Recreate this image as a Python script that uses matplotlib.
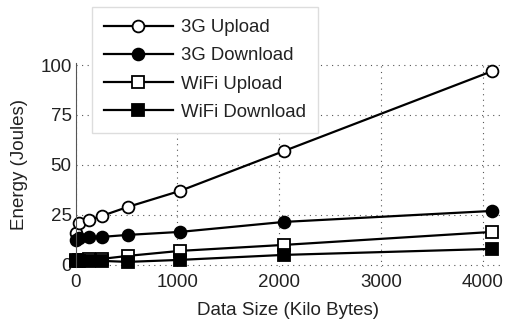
import matplotlib
matplotlib.use("Agg")
import matplotlib.pyplot as plt

# data size (KB) and energy (J)
sizes = [1, 32, 128, 256, 512, 1024, 2048, 4096]
g3_upload = [16, 21, 22.5, 24.5, 29, 37, 57, 97]
g3_download = [12.5, 13.5, 14, 14, 15, 16.5, 21.5, 27]
wifi_upload = [2.5, 2.5, 2.8, 3, 4.5, 7, 10, 16.5]
wifi_download = [2, 2, 2, 2, 1.5, 2.5, 5, 8]

labels = ["3G Upload", "3G Download", "WiFi Upload", "WiFi Download"]

plt.rcParams["font.family"] = ["Liberation Sans", "DejaVu Sans"]

fig = plt.figure(figsize=(5.05, 3.2), dpi=100)
ax = fig.add_axes([0.150, 0.166, 0.840, 0.637])

style = dict(color="black", lw=1.6, ms=8.5, mew=1.3, clip_on=False)
ax.plot(sizes, g3_upload, marker="o", mfc="white", label=labels[0], **style)
ax.plot(sizes, g3_download, marker="o", mfc="black", label=labels[1], **style)
ax.plot(sizes, wifi_upload, marker="s", mfc="white", label=labels[2], **style)
ax.plot(sizes, wifi_download, marker="s", mfc="black", label=labels[3], **style)

ax.set_xlim(0, 4170)
ax.set_ylim(-1, 101)
ax.set_xticks([0, 1000, 2000, 3000, 4000])
ax.set_yticks([0, 25, 50, 75, 100])
ax.grid(True, linestyle=(0, (1, 4)), color="#555555", lw=0.8)
for s in ["top", "right", "bottom"]:
    ax.spines[s].set_visible(False)
ax.spines["left"].set_color("#555555")
ax.tick_params(direction="in", length=0, labelsize=13.5, colors="#222222")
ax.tick_params(axis="x", pad=5)
ax.tick_params(axis="y", pad=3)

ax.set_xlabel("Data Size (Kilo Bytes)", fontsize=13.5, color="#222222", labelpad=8)
ax.set_ylabel("Energy (Joules)", fontsize=13.5, color="#222222", labelpad=9)

leg = fig.legend(loc="upper left", bbox_to_anchor=(0.182, 0.978),
                 borderaxespad=0, fontsize=13.4, handlelength=3.7,
                 labelspacing=0.6, borderpad=0.65, handletextpad=0.45,
                 fancybox=False, framealpha=1, edgecolor="#dddddd")
leg.get_frame().set_linewidth(1.0)
for t in leg.get_texts():
    t.set_color("#222222")

fig.savefig("out.png", dpi=100)
